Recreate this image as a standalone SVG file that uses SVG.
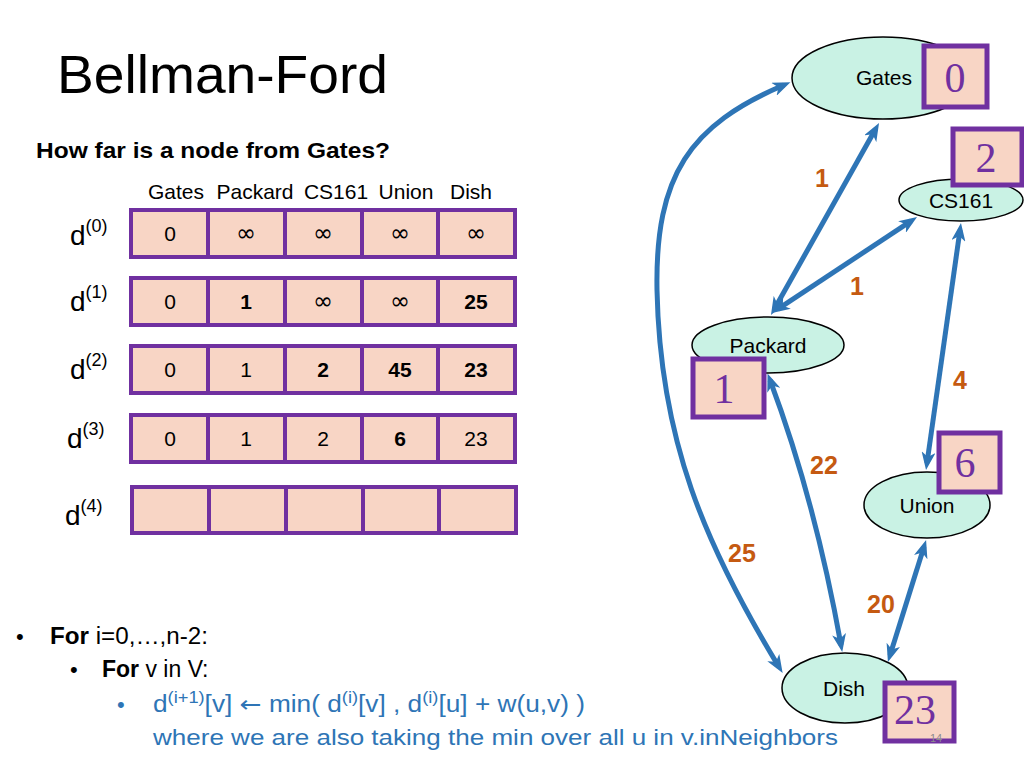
<svg xmlns="http://www.w3.org/2000/svg" width="1024" height="768" viewBox="0 0 1024 768">
<style>
text{font-family:"Liberation Sans",Arial,sans-serif;fill:#000}
.cell{fill:#F8D5C5;stroke:#7030A0;stroke-width:4}
.ct{font-size:21px;text-anchor:middle}
.inf{font-family:"DejaVu Sans",sans-serif;font-size:24px;text-anchor:middle}
.b{font-weight:bold}
.hd{font-size:21px;text-anchor:middle}
.dl{font-size:28px}
.sup{font-size:18px}
.edge{fill:none;stroke:#2E75B6;stroke-width:5;marker-start:url(#ah);marker-end:url(#ah)}
.el{font-size:25px;font-weight:bold;fill:#C55A11;text-anchor:middle}
.node{fill:#C9F2E4;stroke:#000;stroke-width:1.5}
.nl{font-size:21px;text-anchor:middle}
.box{fill:#F8D5C5;stroke:#7030A0;stroke-width:5}
.bn{font-family:"Liberation Serif","DejaVu Serif",serif;font-size:42px;fill:#7030A0;text-anchor:middle}
.blue{fill:#2E75B6}
</style>
<defs>
<marker id="ah" viewBox="0 0 18 14" markerWidth="18" markerHeight="14" refX="11" refY="7" orient="auto-start-reverse" markerUnits="userSpaceOnUse">
<path d="M0,0 L18,7 L0,14 L5,7 z" fill="#2E75B6"/>
</marker>
</defs>
<rect width="1024" height="768" fill="#fff"/>

<text x="57" y="93" font-size="54" textLength="331" lengthAdjust="spacingAndGlyphs">Bellman-Ford</text>
<text x="36" y="158" font-size="22" class="b" textLength="354" lengthAdjust="spacingAndGlyphs">How far is a node from Gates?</text>

<g id="headers">
<text class="hd" x="176" y="199">Gates</text>
<text class="hd" x="255" y="199">Packard</text>
<text class="hd" x="336" y="199">CS161</text>
<text class="hd" x="406" y="199">Union</text>
<text class="hd" x="471" y="199">Dish</text>
</g>

<g id="row0">
<text class="dl" x="70" y="245">d<tspan class="sup" dy="-13">(0)</tspan></text>
<rect class="cell" x="131" y="210" width="77" height="47"/>
<rect class="cell" x="208" y="210" width="77" height="47"/>
<rect class="cell" x="285" y="210" width="77" height="47"/>
<rect class="cell" x="362" y="210" width="76" height="47"/>
<rect class="cell" x="438" y="210" width="77" height="47"/>
<text class="ct" x="170" y="241">0</text>
<text class="inf" x="246" y="241">∞</text>
<text class="inf" x="323" y="241">∞</text>
<text class="inf" x="400" y="241">∞</text>
<text class="inf" x="476" y="241">∞</text>
</g>

<g id="row1">
<text class="dl" x="70" y="311">d<tspan class="sup" dy="-13">(1)</tspan></text>
<rect class="cell" x="131" y="278" width="77" height="47"/>
<rect class="cell" x="208" y="278" width="77" height="47"/>
<rect class="cell" x="285" y="278" width="77" height="47"/>
<rect class="cell" x="362" y="278" width="76" height="47"/>
<rect class="cell" x="438" y="278" width="77" height="47"/>
<text class="ct" x="170" y="309">0</text>
<text class="ct b" x="246" y="309">1</text>
<text class="inf" x="323" y="309">∞</text>
<text class="inf" x="400" y="309">∞</text>
<text class="ct b" x="476" y="309">25</text>
</g>

<g id="row2">
<text class="dl" x="70" y="379">d<tspan class="sup" dy="-13">(2)</tspan></text>
<rect class="cell" x="131" y="346" width="77" height="47"/>
<rect class="cell" x="208" y="346" width="77" height="47"/>
<rect class="cell" x="285" y="346" width="77" height="47"/>
<rect class="cell" x="362" y="346" width="76" height="47"/>
<rect class="cell" x="438" y="346" width="77" height="47"/>
<text class="ct" x="170" y="377">0</text>
<text class="ct" x="246" y="377">1</text>
<text class="ct b" x="323" y="377">2</text>
<text class="ct b" x="400" y="377">45</text>
<text class="ct b" x="476" y="377">23</text>
</g>

<g id="row3">
<text class="dl" x="67" y="448">d<tspan class="sup" dy="-13">(3)</tspan></text>
<rect class="cell" x="131" y="415" width="77" height="47"/>
<rect class="cell" x="208" y="415" width="77" height="47"/>
<rect class="cell" x="285" y="415" width="77" height="47"/>
<rect class="cell" x="362" y="415" width="76" height="47"/>
<rect class="cell" x="438" y="415" width="77" height="47"/>
<text class="ct" x="170" y="446">0</text>
<text class="ct" x="246" y="446">1</text>
<text class="ct" x="323" y="446">2</text>
<text class="ct b" x="400" y="446">6</text>
<text class="ct" x="476" y="446">23</text>
</g>

<g id="row4">
<text class="dl" x="65" y="525">d<tspan class="sup" dy="-13">(4)</tspan></text>
<rect class="cell" x="132" y="487" width="77" height="46"/>
<rect class="cell" x="209" y="487" width="77" height="46"/>
<rect class="cell" x="286" y="487" width="77" height="46"/>
<rect class="cell" x="363" y="487" width="76" height="46"/>
<rect class="cell" x="439" y="487" width="77" height="46"/>
</g>

<g id="connectors">
<line class="edge" x1="774.4" y1="308.9" x2="875.6" y2="129.1"/>
<line class="edge" x1="777.8" y1="309.1" x2="911.2" y2="220.9"/>
<line class="edge" x1="960" y1="230" x2="927" y2="463"/>
<path class="edge" d="M770,380 Q815,500 841,645"/>
<line class="edge" x1="924" y1="546.7" x2="890" y2="655.3"/>
<path class="edge" d="M784,85 C690,125 655,175 657,290 C660,440 705,545 779,667"/>
<text class="el" x="822" y="187">1</text>
<text class="el" x="857" y="295">1</text>
<text class="el" x="960" y="389">4</text>
<text class="el" x="824" y="474">22</text>
<text class="el" x="742" y="562">25</text>
<text class="el" x="881" y="613">20</text>
</g>

<g id="node-gates">
<ellipse class="node" cx="883" cy="78" rx="91" ry="41"/>
<text class="nl" x="884" y="85">Gates</text>
<rect class="box" x="924" y="46" width="63" height="61"/>
<text class="bn" x="955" y="92">0</text>
</g>

<g id="node-cs161">
<ellipse class="node" cx="961" cy="200" rx="62" ry="21"/>
<text class="nl" x="961" y="208">CS161</text>
<rect class="box" x="953" y="129" width="69" height="56"/>
<text class="bn" x="986" y="172">2</text>
</g>

<g id="node-packard">
<ellipse class="node" cx="768" cy="345" rx="76" ry="28"/>
<text class="nl" x="768" y="353">Packard</text>
<rect class="box" x="693" y="359" width="71" height="58"/>
<text class="bn" x="724" y="403">1</text>
</g>

<g id="node-union">
<ellipse class="node" cx="927" cy="505" rx="63" ry="33"/>
<text class="nl" x="927" y="513">Union</text>
<rect class="box" x="939" y="433" width="61" height="59"/>
<text class="bn" x="965" y="477">6</text>
</g>

<g id="node-dish">
<ellipse class="node" cx="845" cy="688" rx="63" ry="35"/>
<text class="nl" x="844" y="696">Dish</text>
<rect class="box" x="885" y="683" width="69" height="58"/>
<text class="bn" x="915" y="724" font-size="40">23</text>
<text x="936" y="742" font-size="11" text-anchor="middle" style="fill:#8c8c8c">14</text>
</g>

<g id="bullets">
<text x="16" y="644" font-size="22">•</text>
<text x="50" y="644" font-size="23" textLength="158" lengthAdjust="spacingAndGlyphs"><tspan class="b">For</tspan> i=0,…,n-2:</text>
<text x="70" y="677" font-size="22">•</text>
<text x="102" y="677" font-size="23"><tspan class="b">For</tspan> v in V:</text>
<text x="117" y="712" font-size="22" class="blue">•</text>
<text x="153" y="712" font-size="23" class="blue" textLength="432" lengthAdjust="spacingAndGlyphs">d<tspan font-size="16" dy="-9">(i+1)</tspan><tspan dy="9">[v] </tspan><tspan font-family="DejaVu Sans">←</tspan><tspan> min( d</tspan><tspan font-size="16" dy="-9">(i)</tspan><tspan dy="9">[v] , d</tspan><tspan font-size="16" dy="-9">(i)</tspan><tspan dy="9">[u] + w(u,v) )</tspan></text>
<text x="153" y="745" font-size="22" class="blue" textLength="685" lengthAdjust="spacingAndGlyphs">where we are also taking the min over all u in v.inNeighbors</text>
</g>
</svg>
